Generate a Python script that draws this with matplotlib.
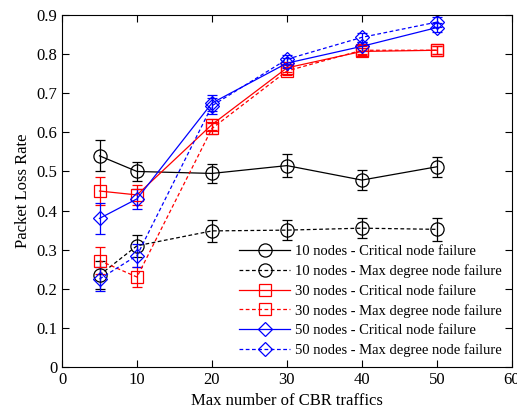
import matplotlib
matplotlib.use("Agg")
import matplotlib.pyplot as plt
from matplotlib.lines import Line2D

x = [5, 10, 20, 30, 40, 50]
labels = ["10 nodes - Critical node failure", "10 nodes - Max degree node failure",
          "30 nodes - Critical node failure", "30 nodes - Max degree node failure",
          "50 nodes - Critical node failure", "50 nodes - Max degree node failure"]
n10_crit = [0.54, 0.50, 0.495, 0.515, 0.478, 0.512]
n10_crit_err = [0.04, 0.025, 0.025, 0.03, 0.025, 0.025]
n10_max = [0.235, 0.31, 0.348, 0.35, 0.355, 0.352]
n10_max_err = [0.035, 0.028, 0.028, 0.025, 0.025, 0.03]
n30_crit = [0.45, 0.44, 0.62, 0.765, 0.807, 0.81]
n30_crit_err = [0.035, 0.025, 0.015, 0.01, 0.01, 0.01]
n30_max = [0.272, 0.23, 0.61, 0.757, 0.81, 0.81]
n30_max_err = [0.035, 0.025, 0.015, 0.01, 0.01, 0.01]
n50_crit = [0.38, 0.43, 0.675, 0.777, 0.82, 0.868]
n50_crit_err = [0.04, 0.025, 0.02, 0.012, 0.012, 0.012]
n50_max = [0.225, 0.285, 0.668, 0.787, 0.843, 0.882]
n50_max_err = [0.03, 0.03, 0.02, 0.012, 0.012, 0.012]

series = [
    (n10_crit, n10_crit_err, "black", "-", "o"),
    (n10_max, n10_max_err, "black", "--", "o"),
    (n30_crit, n30_crit_err, "red", "-", "s"),
    (n30_max, n30_max_err, "red", "--", "s"),
    (n50_crit, n50_crit_err, "blue", "-", "D"),
    (n50_max, n50_max_err, "blue", "--", "D"),
]
msizes = {"o": 9.5, "s": 9, "D": 7.5}

plt.rcParams['font.family'] = ['Liberation Serif', 'DejaVu Serif']
fig = plt.figure(figsize=(5.17, 4.15), dpi=100)
ax = fig.add_axes([0.12, 0.1157, 0.870, 0.848])

handles = []
for (y, e, c, ls, m), lab in zip(series, labels):
    ms = msizes[m]
    dashes = (3, 2) if ls == "--" else (None, None)
    ax.errorbar(x, y, yerr=e, color=c, linestyle=ls, linewidth=0.9,
                marker=m, markersize=ms, markerfacecolor='none',
                markeredgecolor=c, markeredgewidth=0.9,
                capsize=3.5, elinewidth=0.9, capthick=0.9,
                dashes=dashes)
    h = Line2D([], [], color=c, linestyle=ls, linewidth=0.9, marker=m,
               markersize=ms, markerfacecolor='none', markeredgecolor=c,
               markeredgewidth=0.9)
    if ls == "--":
        h.set_dashes((3, 2))
    handles.append(h)

ax.set_xlim(0, 60)
ax.set_ylim(0, 0.9)
ax.set_xticks([0, 10, 20, 30, 40, 50, 60])
ax.set_yticks([0, 0.1, 0.2, 0.3, 0.4, 0.5, 0.6, 0.7, 0.8, 0.9])
ax.set_yticklabels(["0", "0.1", "0.2", "0.3", "0.4", "0.5", "0.6", "0.7", "0.8", "0.9"])
ax.tick_params(direction='in', top=True, right=True, labelsize=12, length=5)
ax.set_xlabel("Max number of CBR traffics", fontsize=12)
ax.set_ylabel("Packet Loss Rate", fontsize=12)

ax.legend(handles, labels, loc='lower right', frameon=False, fontsize=10.5,
          handlelength=3.5, handletextpad=0.3, labelspacing=0.42,
          borderaxespad=0.3)

fig.savefig("out.png", dpi=100)
